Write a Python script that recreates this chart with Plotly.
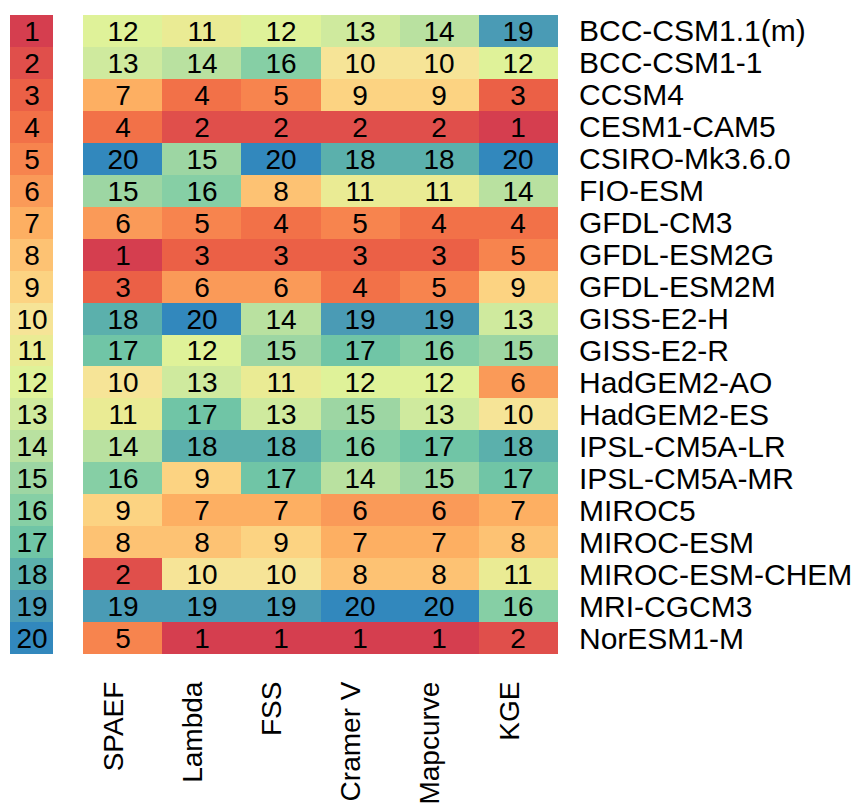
import plotly.graph_objects as go

# Model names (rows, top to bottom) and evaluation metrics (columns)
models = [
    "BCC-CSM1.1(m)", "BCC-CSM1-1", "CCSM4", "CESM1-CAM5", "CSIRO-Mk3.6.0",
    "FIO-ESM", "GFDL-CM3", "GFDL-ESM2G", "GFDL-ESM2M", "GISS-E2-H",
    "GISS-E2-R", "HadGEM2-AO", "HadGEM2-ES", "IPSL-CM5A-LR", "IPSL-CM5A-MR",
    "MIROC5", "MIROC-ESM", "MIROC-ESM-CHEM", "MRI-CGCM3", "NorESM1-M",
]
metrics = ["SPAEF", "Lambda", "FSS", "Cramer V", "Mapcurve", "KGE"]

# Overall rank column shown at the left
overall_rank = list(range(1, 21))

# Per-metric ranks, one list per metric
spaef = [12, 13, 7, 4, 20, 15, 6, 1, 3, 18, 17, 10, 11, 14, 16, 9, 8, 2, 19, 5]
lambda_ = [11, 14, 4, 2, 15, 16, 5, 3, 6, 20, 12, 13, 17, 18, 9, 7, 8, 10, 19, 1]
fss = [12, 16, 5, 2, 20, 8, 4, 3, 6, 14, 15, 11, 13, 18, 17, 7, 9, 10, 19, 1]
cramer_v = [13, 10, 9, 2, 18, 11, 5, 3, 4, 19, 17, 12, 15, 16, 14, 6, 7, 8, 20, 1]
mapcurve = [14, 10, 9, 2, 18, 11, 4, 3, 5, 19, 16, 12, 13, 17, 15, 6, 7, 8, 20, 1]
kge = [19, 12, 3, 1, 20, 14, 4, 5, 9, 13, 15, 6, 10, 18, 17, 7, 8, 11, 16, 2]

metric_ranks = [spaef, lambda_, fss, cramer_v, mapcurve, kge]
z_main = [[col[i] for col in metric_ranks] for i in range(len(models))]
z_left = [[r] for r in overall_rank]

# One colour per rank, red (best) through yellow and green to blue (worst)
rank_colors = [
    "#D53E4F", "#E04F4B", "#EB6046", "#F27148", "#F7844E",
    "#FA9A58", "#FDAF62", "#FDC273", "#FCD382", "#F6E497",
    "#EAEB94", "#DFF299", "#CFEA9E", "#B9E1A0", "#9DD6A3",
    "#86CFA5", "#70C5A6", "#5BB0AC", "#4A9BB5", "#3288BD",
]
n = len(rank_colors)
colorscale = [[i / (n - 1), c] for i, c in enumerate(rank_colors)]

rows = list(range(1, len(models) + 1))
FONT = "Liberation Sans, Arial, sans-serif"
NUM_SIZE = 28
LABEL_SIZE = 30
METRIC_SIZE = 28

fig = go.Figure()

fig.add_trace(go.Heatmap(
    z=z_left, x=[0], y=rows, xaxis="x2", yaxis="y",
    colorscale=colorscale, zmin=1, zmax=20, showscale=False,
    texttemplate="%{z}", textfont=dict(family=FONT, size=NUM_SIZE, color="black"),
    hoverinfo="skip",
))

fig.add_trace(go.Heatmap(
    z=z_main, x=metrics, y=rows, xaxis="x", yaxis="y",
    colorscale=colorscale, zmin=1, zmax=20, showscale=False,
    texttemplate="%{z}", textfont=dict(family=FONT, size=NUM_SIZE, color="black"),
    hoverinfo="skip",
))

W, H = 857, 809
ml, mr, mt, mb = 10, 299, 15, 155
pw = W - ml - mr

fig.update_layout(
    width=W, height=H,
    margin=dict(l=ml, r=mr, t=mt, b=mb, pad=0, autoexpand=False),
    paper_bgcolor="white", plot_bgcolor="white",
    font=dict(family=FONT, size=LABEL_SIZE, color="black"),
    xaxis=dict(
        domain=[(83 - ml) / pw, 1], type="category", automargin=False,
        tickangle=-90, ticks="", showgrid=False, zeroline=False,
        showline=False, tickfont=dict(size=METRIC_SIZE, color="black"),
        ticklabelstandoff=21, ticklabelshift=-9,
    ),
    xaxis2=dict(
        domain=[0, (53 - ml) / pw], showticklabels=False, ticks="",
        showgrid=False, zeroline=False, showline=False, automargin=False,
    ),
    yaxis=dict(
        anchor="x", side="right", autorange="reversed", automargin=False,
        tickmode="array", tickvals=rows, ticktext=models,
        ticks="", showgrid=False, zeroline=False, showline=False,
        tickfont=dict(size=LABEL_SIZE, color="black"), ticklabelstandoff=20,
    ),
)

fig.write_html("out.html")
